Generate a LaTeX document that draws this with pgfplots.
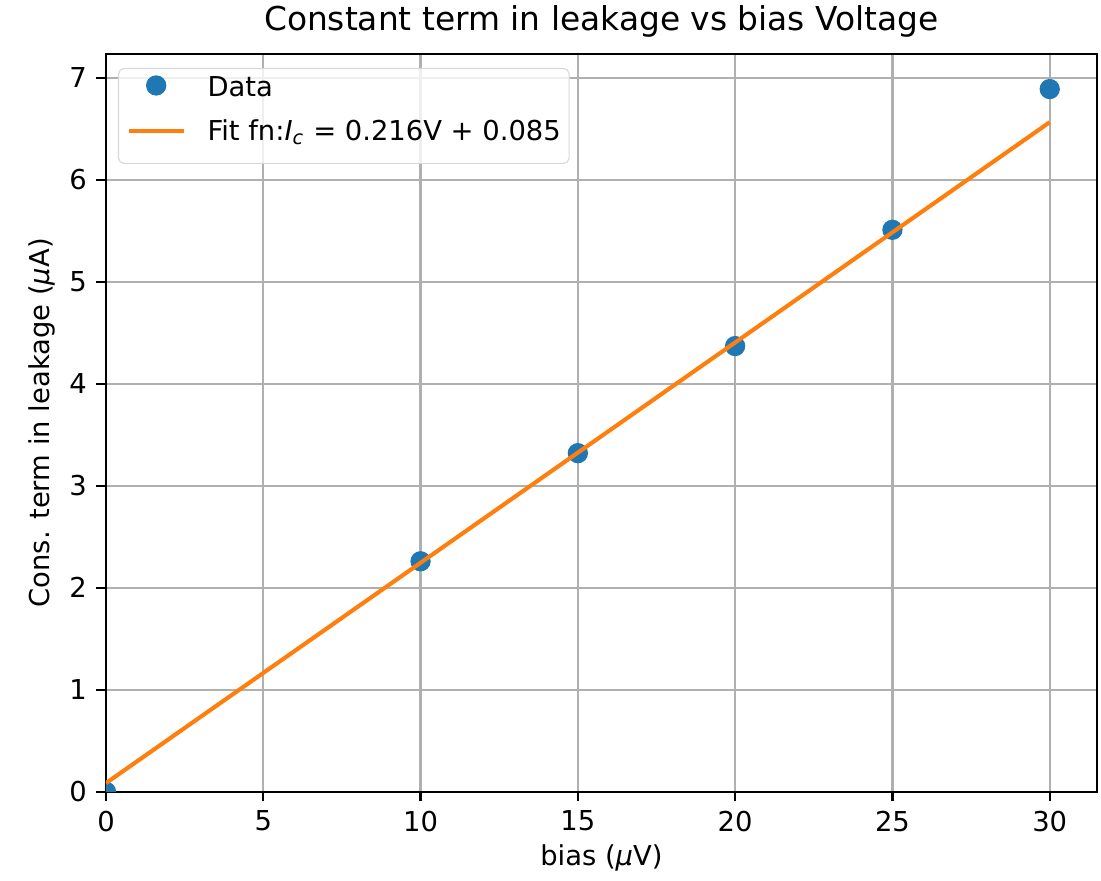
\documentclass[border=0pt]{standalone}
\usepackage{pgfplots}
\pgfplotsset{compat=1.18}
\usepackage{fontspec}
\setmainfont{DejaVu Sans}
\definecolor{mplblue}{HTML}{1F77B4}
\definecolor{mplorange}{HTML}{FF7F0E}
\definecolor{mplgrid}{HTML}{B0B0B0}
\begin{document}
\fontsize{10pt}{12pt}\selectfont
\begin{tikzpicture}
\begin{axis}[
  name=ax,
  scale only axis, width=361.8pt, height=269.4pt,
  xmin=0, xmax=31.5, ymin=0, ymax=7.2345,
  xtick={0,5,...,30}, ytick={0,1,...,7},
  tick pos=left, tick align=outside, major tick length=3.5pt,
  every tick/.style={black, line width=0.8pt},
  axis line style={line width=0.8pt},
  grid=major, major grid style={mplgrid, line width=0.8pt},
  clip marker paths=true,
  /pgf/number format/assume math mode=true,
  ticklabel style={font=\fontsize{10pt}{12pt}\selectfont},
  title={Constant term in leakage vs bias Voltage},
  every axis title shift=0pt,
  title style={font=\fontsize{12pt}{14.4pt}\selectfont, at={(axis description cs:0.5,1.0434)}, anchor=center, yshift=0pt},
  xlabel={bias ({\itshape μ}V)},
  ylabel={Cons. term in leakage ({\itshape μ}A)},
  xlabel style={font=\fontsize{10pt}{12pt}\selectfont, at={(axis description cs:0.5,-0.0894)}, anchor=center},
  ylabel style={font=\fontsize{10pt}{12pt}\selectfont, at={(axis description cs:-0.0646,0.5)}, anchor=center},
  legend style={at={(axis description cs:0.0121,0.981)}, anchor=north west,
    draw=black!15, rounded corners=2pt, fill=white, fill opacity=0.8, text opacity=1,
    font=\fontsize{10pt}{12pt}\selectfont,
    inner xsep=3pt, inner ysep=2.5pt, row sep=2.5pt,
    nodes={inner sep=0pt, text height=7.5pt, text depth=6pt},
    /tikz/every odd column/.append style={column sep=8pt}},
  legend cell align=left,
]
% measured points
\addplot[only marks, mark=*, mark size=3.5pt, color=mplblue, mark options={fill=mplblue, draw=mplblue},
  legend image code/.code={\fill[mplblue, fill opacity=1] (10pt,3.2pt) circle (3.5pt);}]
  coordinates {(0,0) (10,2.26) (15,3.32) (20,4.37) (25,5.51) (30,6.89)};
\addlegendentry{Data}
% linear fit I_c = 0.216 V + 0.085
\addplot[mplorange, line width=1.5pt,
  legend image code/.code={\draw[mplorange, line width=1.5pt, draw opacity=1] (0pt,2.5pt) -- (20pt,2.5pt);}]
  coordinates {(0,0.085) (30,6.565)};
\addlegendentry{Fit fn:{\itshape I\textsubscript{\itshape c}} = 0.216V + 0.085}
\end{axis}
\pgfresetboundingbox
\path ([xshift=-38.7pt,yshift=-32.5pt]ax.south west) rectangle ([xshift=1.5pt,yshift=19.7pt]ax.north east);
\end{tikzpicture}
\end{document}
